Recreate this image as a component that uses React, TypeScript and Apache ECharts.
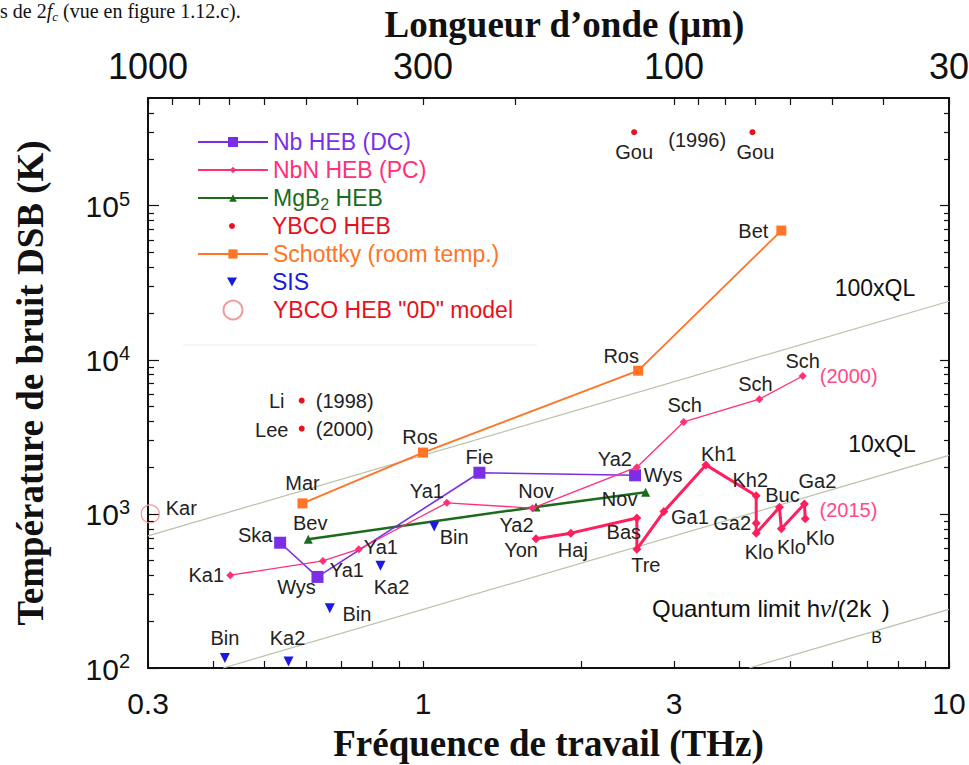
import React, { useEffect, useRef } from 'react';
import * as echarts from 'echarts';

const SANS = "'Liberation Sans', Arial, Helvetica, sans-serif";
const SERIF = "'Liberation Serif', 'Times New Roman', Times, serif";

// ---------- axes ticks / labels ----------
const freqTicks = [0.3, 0.4, 0.5, 0.6, 0.7, 0.8, 0.9, 1, 2, 3, 4, 5, 6, 7, 8, 9, 10];
const freqLabels = [0.3, 1, 3, 10];
const waveTicks = [1000, 900, 800, 700, 600, 500, 400, 300, 200, 100, 90, 80, 70, 60, 50, 40, 30];
const waveLabels = [1000, 300, 100, 30];
const tempMajor = [100, 1000, 10000, 100000];
const tempMinor = [
  200, 300, 400, 500, 600, 700, 800, 900,
  2000, 3000, 4000, 5000, 6000, 7000, 8000, 9000,
  20000, 30000, 40000, 50000, 60000, 70000, 80000, 90000,
  200000, 300000, 400000,
];

// ---------- data (frequency THz, DSB noise temperature K) ----------
// Nb HEB (DC)
const nbFreq = [0.535, 0.63, 1.28, 2.53];
const nbTemp = [650, 390, 1850, 1780];
const nbRefs = ['Ska', 'Wys', 'Fie', 'Wys'];

// NbN HEB (PC), compilation 2000
const nbnFreq = [0.43, 0.645, 0.755, 1.11, 1.615, 2.55, 3.13, 4.36, 5.27];
const nbnTemp = [400, 495, 590, 1180, 1090, 2010, 3950, 5550, 7850];
const nbnRefs = ['Ka1', 'Ya1', 'Ya1', 'Ya1', 'Ya2', 'Ya2', 'Sch', 'Sch', 'Sch'];

// NbN HEB, state of the art 2015
const nbn15Freq = [1.64, 1.91, 2.55, 2.55, 2.87, 3.45, 4.3, 4.3, 4.3, 4.76, 4.8, 5.31, 5.33];
const nbn15Temp = [690, 750, 940, 590, 1035, 2080, 1310, 870, 750, 1105, 800, 1160, 930];
const nbn15Refs = ['Yon', 'Haj', 'Bas', 'Tre', 'Ga1', 'Kh1', 'Kh2', 'Ga2', 'Klo', 'Buc', 'Klo', 'Ga2', 'Klo'];

// MgB2 HEB
const mgFreq = [0.605, 1.64, 2.65];
const mgTemp = [685, 1110, 1380];
const mgRefs = ['Bev', 'Nov', 'Nov'];

// YBCO HEB
const ybcoFreq = [0.588, 0.588, 2.52, 4.23];
const ybcoTemp = [5440, 3580, 300000, 300000];
const ybcoRefs = ['Li', 'Lee', 'Gou', 'Gou'];

// Schottky (room temperature)
const schFreq = [0.59, 1.0, 2.565, 4.8];
const schTemp = [1170, 2500, 8500, 69000];
const schRefs = ['Mar', 'Ros', 'Ros', 'Bet'];

// SIS
const sisFreq = [0.42, 0.555, 0.665, 0.83, 1.05];
const sisTemp = [116, 110, 244, 461, 828];
const sisRefs = ['Bin', 'Ka2', 'Bin', 'Ka2', 'Bin'];

// YBCO HEB "0D" model
const karFreq = [0.303];
const karTemp = [1000];
const karRefs = ['Kar'];

// Quantum limit lines (end points)
const qlFreq = [4.17, 10];
const qlTemp = [100, 240];
const ql10Freq = [0.417, 10];
const ql10Temp = [100, 2400];
const ql100Freq = [0.3, 10];
const ql100Temp = [720, 24000];

// Year notes
const noteTexts = ['(1998)', '(2000)', '(1996)', '(2000)', '(2015)'];
const noteFreq = [ybcoFreq[0], ybcoFreq[1], ybcoFreq[2], nbnFreq[8], nbn15Freq[11]];
const noteTemp = [ybcoTemp[0], ybcoTemp[1], ybcoTemp[2], nbnTemp[8], nbn15Temp[11]];

// ---------- label placement (pixel offsets from the point) ----------
const nbLabelOff = [[-25, -8], [-21, 10], [0, -16], [28, 0]];
const nbnLabelOff = [[-24, 0], [24, 9], [22, -2], [-20, -12], [-16, 17], [-22, -8], [1, -17], [-4, -15], [0, -15]];
const nbn15LabelOff = [[-15, 11], [2, 17], [-13, 14], [9, 16], [26, 5], [13, -11], [-6, -16], [-24, 0], [3, 19], [3, -12], [10, 18], [13, -23], [15, 19]];
const mgLabelOff = [[2, -16], [0, -16], [-26, 7]];
const ybcoLabelOff = [[-25, 0], [-30, 1], [0, 20], [3, 20]];
const schLabelOff = [[0, -20], [-3, -16], [-17, -15], [-28, 0]];
const sisLabelOff = [[0, -20], [-1, -24], [27, 6], [11, 21], [20, 10]];
const karLabelOff = [[31, -6]];
const noteOff = [[43, 0], [43, 0], [63, 8], [46, 0], [44, 6]];
const noteColors = ['#222', '#222', '#222', '#ff4a86', '#ff4a86'];

// ---------- colours ----------
const C_NB = '#7a2fe6';
const C_NBN = '#ff2f7a';
const C_NBN15 = '#ff1f5e';
const C_MG = '#1c6b1c';
const C_YBCO = '#e8101c';
const C_SCH = '#ff7426';
const C_SIS = '#1a1ae0';
const C_KAR = '#f29a9a';
const C_QL = '#b9c2a8';
const C_AX = '#111';

const pts = (f: number[], t: number[], off?: number[][]) =>
  f.map((v, i) => (off ? { value: [v, t[i]], label: { offset: off[i] } } : { value: [v, t[i]] }));

const lbl = (refs: string[]) => ({
  show: true,
  position: 'inside',
  fontSize: 20,
  color: '#222',
  fontFamily: SANS,
  formatter: (p: any) => refs[p.dataIndex],
});

export default function App() {
  const ref = useRef<HTMLDivElement>(null);
  useEffect(() => {
    if (!ref.current) return;
    const chart = echarts.init(ref.current, null, { renderer: 'svg' });

    // legend rows: line series use a 70px wide icon; marker-only series use a symbol-sized icon
    const LEG_X = 197;
    const LEG_W = 70;
    const legendDefs: any[] = [
      { name: 'Nb HEB (DC)', color: C_NB, h: 12.5, line: true },
      { name: 'NbN HEB (PC)', color: C_NBN, h: 8, line: true },
      { name: 'MgB2 HEB', color: C_MG, h: 9.5, line: true },
      { name: 'YBCO HEB', color: C_YBCO, h: 6, line: false },
      { name: 'Schottky (room temp.)', color: C_SCH, h: 11.5, line: true },
      { name: 'SIS', color: C_SIS, h: 10, line: false, icon: 'path://M0,0L10,0L5,9Z' },
      { name: 'YBCO HEB "0D" model', color: C_YBCO, h: 19, line: false },
    ];

    const legends = legendDefs.map((d, i) => {
      const w = d.line ? LEG_W : d.h;
      const left = d.line ? LEG_X : LEG_X + LEG_W / 2 - d.h / 2;
      const padL = d.line ? 0 : LEG_W / 2 - d.h / 2;
      const rich = {
        n: { color: d.color, fontSize: 23, fontFamily: SANS, lineHeight: 28, padding: [0, 0, 0, 0] },
        p: { color: d.color, fontSize: 23, fontFamily: SANS, lineHeight: 28, padding: [0, 0, 0, padL] },
        s: { color: d.color, fontSize: 16, fontFamily: SANS, lineHeight: 20, verticalAlign: 'bottom' },
      };
      const entry: any = { name: d.name };
      if (d.icon) entry.icon = d.icon;
      return {
        data: [entry],
        orient: 'vertical',
        left,
        top: 128 + i * 28,
        padding: 0,
        itemWidth: w,
        itemHeight: d.h,
        selectedMode: false,
        symbolKeepAspect: true,
        formatter: (name: string) =>
          name === 'MgB2 HEB' ? '{p|MgB}{s|2}{n| HEB}' : '{p|' + name + '}',
        textStyle: { color: d.color, fontSize: 23, fontFamily: SANS, lineHeight: 28, rich },
      };
    });

    const logY = {
      type: 'log',
      logBase: 10,
      min: 100,
      max: 500000,
      splitLine: { show: false },
      minorTick: { show: false },
    };

    const option: any = {
      animation: false,
      backgroundColor: '#fff',
      grid: { left: 148, right: 20, top: 98, bottom: 97, containLabel: false, outerBoundsMode: 'none' },
      legend: legends,
      xAxis: [
        {
          type: 'log',
          logBase: 10,
          min: 0.3,
          max: 10,
          position: 'bottom',
          splitLine: { show: false },
          minorTick: { show: false },
          axisLine: { show: true, onZero: false, lineStyle: { color: C_AX, width: 2 } },
          axisTick: { show: true, inside: true, length: 7, customValues: freqTicks, lineStyle: { color: C_AX, width: 1.2 } },
          axisLabel: {
            show: true,
            customValues: freqLabels,
            formatter: (v: number) => String(v),
            fontSize: 30,
            lineHeight: 30,
            color: C_AX,
            fontFamily: SANS,
            margin: 20,
          },
          name: 'Fréquence de travail (THz)',
          nameLocation: 'middle',
          nameGap: 57,
          nameTextStyle: { fontFamily: SERIF, fontWeight: 'bold', fontSize: 37, color: C_AX },
        },
        {
          type: 'log',
          logBase: 10,
          min: 30,
          max: 1000,
          inverse: true,
          position: 'top',
          splitLine: { show: false },
          minorTick: { show: false },
          axisLine: { show: true, onZero: false, lineStyle: { color: C_AX, width: 2 } },
          axisTick: { show: true, inside: true, length: 7, customValues: waveTicks, lineStyle: { color: C_AX, width: 1.2 } },
          axisLabel: {
            show: true,
            customValues: waveLabels,
            formatter: (v: number) => String(Math.round(v)),
            fontSize: 36,
            lineHeight: 36,
            color: C_AX,
            fontFamily: SANS,
            margin: 14,
          },
          name: 'Longueur d’onde (µm)',
          nameLocation: 'middle',
          nameGap: 55,
          nameTextStyle: { fontFamily: SERIF, fontWeight: 'bold', fontSize: 37, color: C_AX, padding: [0, 0, 0, 32] },
        },
      ],
      yAxis: [
        {
          ...logY,
          position: 'left',
          axisLine: { show: true, onZero: false, lineStyle: { color: C_AX, width: 2 } },
          axisTick: { show: true, inside: true, length: 11, customValues: tempMajor, lineStyle: { color: C_AX, width: 1.2 } },
          axisLabel: {
            show: true,
            customValues: tempMajor,
            margin: 18,
            formatter: (v: number) => '{b|10}{s|' + Math.round(Math.log10(v)) + '}',
            rich: {
              b: { fontSize: 30, lineHeight: 34, padding: [3, 0, 14, 0], fontFamily: SANS, color: C_AX, verticalAlign: 'top' },
              s: { fontSize: 20, lineHeight: 20, fontFamily: SANS, color: C_AX, verticalAlign: 'top' },
            },
          },
          name: 'Température de bruit DSB (K)',
          nameLocation: 'middle',
          nameGap: 99,
          nameTextStyle: { fontFamily: SERIF, fontWeight: 'bold', fontSize: 37, color: C_AX },
        },
        {
          ...logY,
          position: 'left',
          offset: 0,
          axisLine: { show: false },
          axisTick: { show: true, inside: true, length: 6, customValues: tempMinor, lineStyle: { color: C_AX, width: 1.2 } },
          axisLabel: { show: false },
        },
        {
          ...logY,
          position: 'right',
          axisLine: { show: true, onZero: false, lineStyle: { color: C_AX, width: 2 } },
          axisTick: { show: true, inside: true, length: 9, customValues: tempMajor, lineStyle: { color: C_AX, width: 1.2 } },
          axisLabel: { show: false },
        },
        {
          ...logY,
          position: 'right',
          offset: 0,
          axisLine: { show: false },
          axisTick: { show: true, inside: true, length: 5, customValues: tempMinor, lineStyle: { color: C_AX, width: 1.2 } },
          axisLabel: { show: false },
        },
      ],
      graphic: [
        {
          type: 'text',
          x: 0,
          y: 1,
          style: {
            text: '{n|s de 2}{i|f}{c|c}{n| (vue en figure 1.12.c).}',
            verticalAlign: 'top',
            rich: {
              n: { fontFamily: SERIF, fontSize: 20, lineHeight: 22, fill: '#111', verticalAlign: 'top' },
              i: { fontFamily: SERIF, fontSize: 20, lineHeight: 22, fontStyle: 'italic', fill: '#111', verticalAlign: 'top' },
              c: { fontFamily: SERIF, fontSize: 13, lineHeight: 13, padding: [9, 0, 0, 0], fontStyle: 'italic', fill: '#111', verticalAlign: 'top' },
            },
          },
        },
        {
          type: 'line',
          silent: true,
          shape: { x1: 183, y1: 345, x2: 537, y2: 345 },
          style: { stroke: '#efefe2', lineWidth: 1 },
        },
        {
          type: 'text',
          x: 875,
          y: 288,
          style: { text: '100xQL', fontFamily: SANS, fontSize: 23, fill: '#111', align: 'center', verticalAlign: 'middle' },
        },
        {
          type: 'text',
          x: 882,
          y: 444,
          style: { text: '10xQL', fontFamily: SANS, fontSize: 23, fill: '#111', align: 'center', verticalAlign: 'middle' },
        },
        {
          type: 'text',
          x: 652,
          y: 596,
          style: {
            text: '{n|Quantum limit h}{g|ν}{n|/(2k}{s|B}{n|)}',
            verticalAlign: 'top',
            rich: {
              n: { fontFamily: SANS, fontSize: 24, lineHeight: 26, fill: '#111', verticalAlign: 'top' },
              g: { fontFamily: SERIF, fontSize: 25, lineHeight: 26, fontStyle: 'italic', fill: '#111', verticalAlign: 'top' },
              s: { fontFamily: SANS, fontSize: 16, lineHeight: 16, padding: [33, 0, 0, 0], fill: '#111', verticalAlign: 'top' },
            },
          },
        },
      ],
      series: [
        {
          name: 'QL', type: 'line', silent: true, symbol: 'none', z: 1,
          data: pts(qlFreq, qlTemp), lineStyle: { color: C_QL, width: 1.2 },
        },
        {
          name: '10xQL', type: 'line', silent: true, symbol: 'none', z: 1,
          data: pts(ql10Freq, ql10Temp), lineStyle: { color: C_QL, width: 1.2 },
        },
        {
          name: '100xQL', type: 'line', silent: true, symbol: 'none', z: 1,
          data: pts(ql100Freq, ql100Temp), lineStyle: { color: C_QL, width: 1.2 },
        },
        {
          name: 'Schottky (room temp.)', type: 'line', symbol: 'rect', symbolSize: 10, z: 2,
          data: pts(schFreq, schTemp, schLabelOff),
          itemStyle: { color: C_SCH }, lineStyle: { color: C_SCH, width: 1.8 },
          label: lbl(schRefs), emphasis: { disabled: true },
        },
        {
          name: 'MgB2 HEB', type: 'line', symbol: 'triangle', symbolSize: 9, z: 3,
          data: pts(mgFreq, mgTemp, mgLabelOff),
          itemStyle: { color: C_MG }, lineStyle: { color: C_MG, width: 2.5 },
          label: lbl(mgRefs), emphasis: { disabled: true },
        },
        {
          name: 'Nb HEB (DC)', type: 'line', symbol: 'rect', symbolSize: 12, z: 4,
          data: pts(nbFreq, nbTemp, nbLabelOff),
          itemStyle: { color: C_NB }, lineStyle: { color: C_NB, width: 1.6 },
          label: lbl(nbRefs), emphasis: { disabled: true },
        },
        {
          name: 'NbN HEB (PC)', type: 'line', symbol: 'diamond', symbolSize: 8, z: 5,
          data: pts(nbnFreq, nbnTemp, nbnLabelOff),
          itemStyle: { color: C_NBN }, lineStyle: { color: C_NBN, width: 1.3 },
          label: lbl(nbnRefs), emphasis: { disabled: true },
        },
        {
          name: 'NbN HEB (PC) 2015', type: 'line', symbol: 'diamond', symbolSize: 9, z: 5,
          data: pts(nbn15Freq, nbn15Temp, nbn15LabelOff),
          itemStyle: { color: C_NBN15 }, lineStyle: { color: C_NBN15, width: 3 },
          label: lbl(nbn15Refs), emphasis: { disabled: true },
        },
        {
          name: 'YBCO HEB', type: 'scatter', symbol: 'circle', symbolSize: 6, z: 6,
          data: pts(ybcoFreq, ybcoTemp, ybcoLabelOff),
          itemStyle: { color: C_YBCO, opacity: 1 },
          label: lbl(ybcoRefs), emphasis: { disabled: true },
        },
        {
          name: 'SIS', type: 'scatter', symbol: 'triangle', symbolRotate: 180, symbolSize: 10, z: 6,
          data: pts(sisFreq, sisTemp, sisLabelOff),
          itemStyle: { color: C_SIS, opacity: 1 },
          label: lbl(sisRefs), emphasis: { disabled: true },
        },
        {
          name: 'YBCO HEB "0D" model', type: 'scatter', symbol: 'circle', symbolSize: 18, z: 6,
          data: pts(karFreq, karTemp, karLabelOff),
          itemStyle: { color: 'rgba(255,255,255,0)', borderColor: C_KAR, borderWidth: 1.2, opacity: 1 },
          label: lbl(karRefs), emphasis: { disabled: true },
        },
        {
          name: 'notes', type: 'scatter', symbol: 'circle', symbolSize: 1, z: 6, silent: true,
          data: noteFreq.map((f, i) => ({
            value: [f, noteTemp[i]],
            label: { offset: noteOff[i], color: noteColors[i] },
          })),
          itemStyle: { color: 'rgba(0,0,0,0)', opacity: 1 },
          label: lbl(noteTexts),
        },
      ],
    };

    chart.setOption(option);
    return () => chart.dispose();
  }, []);

  return (
    <div
      ref={ref}
      style={{ position: 'absolute', left: 0, top: 0, width: 969, height: 765, background: '#fff' }}
    />
  );
}
